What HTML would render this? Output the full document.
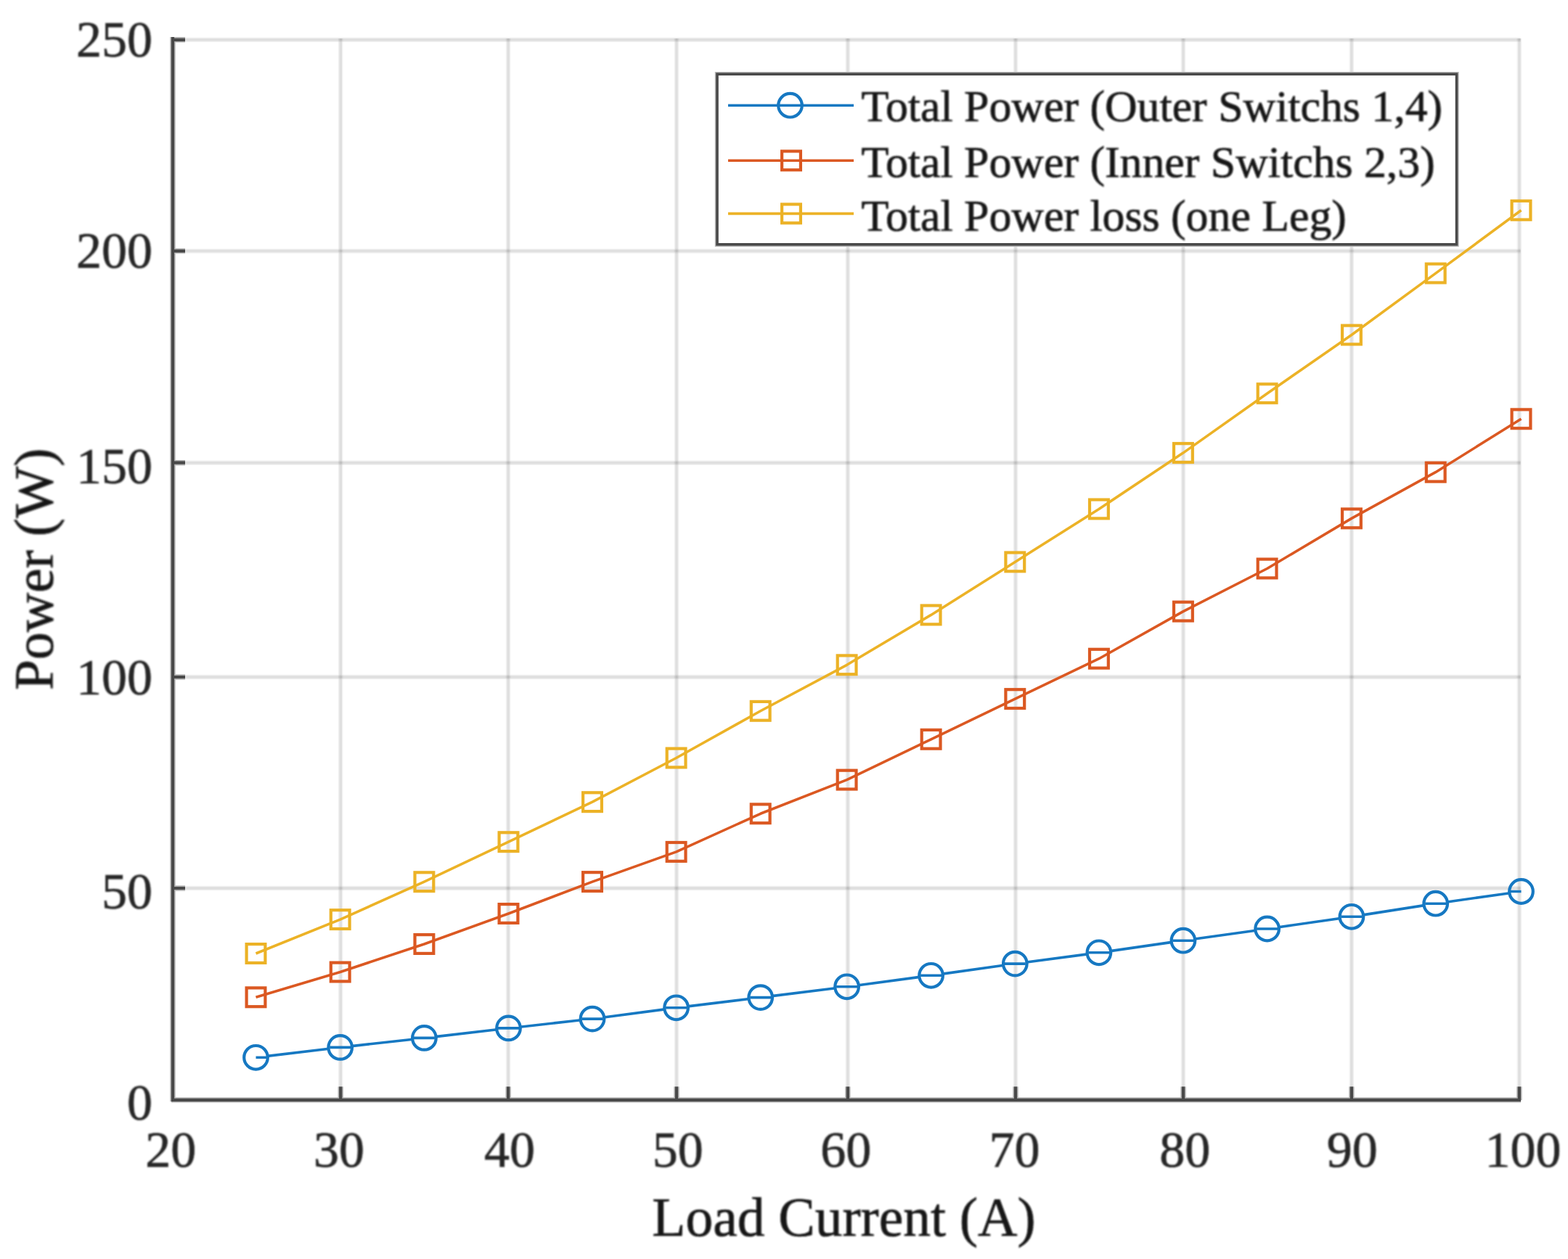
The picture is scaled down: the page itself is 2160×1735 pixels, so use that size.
<!DOCTYPE html>
<html><head><meta charset="utf-8"><title>Power vs Load Current</title>
<style>html,body{margin:0;padding:0;background:#fff;}body{width:2160px;height:1735px;overflow:hidden;}svg{display:block;}text{font-family:"Liberation Serif", "Times New Roman", serif;stroke-width:0.7px;}.tk{fill:#262626;stroke:#262626;}.lb{fill:#141414;stroke:#141414;}</style></head><body>
<svg width="2160" height="1735" viewBox="0 0 2160 1735">
<defs><filter id="tb" x="-5%" y="-20%" width="110%" height="140%"><feGaussianBlur stdDeviation="1.05"/></filter><filter id="lb" x="-2%" y="-2%" width="104%" height="104%"><feGaussianBlur stdDeviation="0.70"/></filter></defs>
<rect x="0" y="0" width="2160" height="1735" fill="#fff"/>
<g filter="url(#lb)">
<g opacity="0.152"><path d="M469.2 53.1V1515.9M700.1 53.1V1515.9M932.0 53.1V1515.9M1167.9 53.1V1515.9M1399.0 53.1V1515.9M1630.0 53.1V1515.9M1861.9 53.1V1515.9M2092.9 53.1V1515.9" stroke="#a3a3a3" stroke-width="6.5" fill="none"/><path d="M469.2 53.1V1515.9M700.1 53.1V1515.9M932.0 53.1V1515.9M1167.9 53.1V1515.9M1399.0 53.1V1515.9M1630.0 53.1V1515.9M1861.9 53.1V1515.9M2092.9 53.1V1515.9" stroke="#262626" stroke-width="3.4" fill="none"/></g>
<g opacity="0.152"><path d="M238.0 1224.0H2094.6M238.0 933.0H2094.6M238.0 637.7H2094.6M238.0 345.9H2094.6M238.0 54.8H2094.6" stroke="#a3a3a3" stroke-width="6.5" fill="none"/><path d="M238.0 1224.0H2094.6M238.0 933.0H2094.6M238.0 637.7H2094.6M238.0 345.9H2094.6M238.0 54.8H2094.6" stroke="#262626" stroke-width="3.4" fill="none"/></g>
<path d="M238.0 51.0V1517.9M236.0 1515.9H2095.1M238.0 1224.0H255.0M238.0 933.0H255.0M238.0 637.7H255.0M238.0 345.9H255.0M238.0 54.8H255.0M469.2 1515.9V1497.4M700.1 1515.9V1497.4M932.0 1515.9V1497.4M1167.9 1515.9V1497.4M1399.0 1515.9V1497.4M1630.0 1515.9V1497.4M1861.9 1515.9V1497.4M2092.9 1515.9V1497.4" stroke="#b4b4b4" stroke-width="7.4" fill="none" stroke-linecap="butt"/>
<path d="M238.0 51.0V1517.9M236.0 1515.9H2095.1M238.0 1224.0H255.0M238.0 933.0H255.0M238.0 637.7H255.0M238.0 345.9H255.0M238.0 54.8H255.0M469.2 1515.9V1497.4M700.1 1515.9V1497.4M932.0 1515.9V1497.4M1167.9 1515.9V1497.4M1399.0 1515.9V1497.4M1630.0 1515.9V1497.4M1861.9 1515.9V1497.4M2092.9 1515.9V1497.4" stroke="#4a4a4a" stroke-width="4.2" fill="none" stroke-linecap="butt"/>
<path d="M368.2 1455.4L453.0 1445.3M484.4 1441.6L568.7 1432.2M600.1 1428.6L684.8 1418.7M716.2 1415.2L800.3 1405.8M831.7 1402.0L915.9 1390.9M947.3 1386.9L1032.0 1376.5M1063.4 1372.6L1150.9 1361.8M1182.3 1357.7L1266.9 1346.4M1298.2 1342.1L1382.7 1330.3M1414.0 1326.0L1498.2 1314.9M1529.5 1310.6L1614.3 1298.4M1645.5 1294.0L1730.0 1282.2M1761.2 1277.8L1846.3 1265.5M1877.5 1260.9L1962.1 1247.6M1993.3 1243.0L2079.9 1230.7M352.5 1457.3H367.0M454.2 1443.4H483.2M569.9 1430.4H598.9M686.0 1416.9H715.0M801.5 1404.1H830.5M917.1 1388.8H946.1M1033.2 1374.6H1062.2M1152.1 1359.8H1181.1M1268.1 1344.3H1297.1M1383.8 1328.1H1412.8M1499.4 1312.8H1528.4M1615.4 1296.2H1644.4M1731.1 1280.0H1760.1M1847.4 1263.3H1876.4M1963.2 1245.2H1992.2M2081.0 1228.5H2095.5" fill="none" stroke="#1478c2" stroke-width="3.6"/>
<g fill="none" stroke="#1478c2" stroke-width="4.2"><circle cx="352.5" cy="1457.3" r="16.3"/><circle cx="468.7" cy="1443.4" r="16.3"/><circle cx="584.4" cy="1430.4" r="16.3"/><circle cx="700.5" cy="1416.9" r="16.3"/><circle cx="816.0" cy="1404.1" r="16.3"/><circle cx="931.6" cy="1388.8" r="16.3"/><circle cx="1047.7" cy="1374.6" r="16.3"/><circle cx="1166.6" cy="1359.8" r="16.3"/><circle cx="1282.6" cy="1344.3" r="16.3"/><circle cx="1398.3" cy="1328.1" r="16.3"/><circle cx="1513.9" cy="1312.8" r="16.3"/><circle cx="1629.9" cy="1296.2" r="16.3"/><circle cx="1745.6" cy="1280.0" r="16.3"/><circle cx="1861.9" cy="1263.3" r="16.3"/><circle cx="1977.7" cy="1245.2" r="16.3"/><circle cx="2095.5" cy="1228.5" r="16.3"/></g>
<polyline points="352.5,1374.3 468.7,1339.5 584.4,1301.0 700.5,1259.0 816.0,1215.1 931.6,1173.9 1047.7,1121.3 1166.6,1074.6 1282.6,1018.8 1398.3,963.1 1513.9,907.7 1629.9,842.6 1745.6,783.5 1861.9,714.4 1977.7,650.7 2095.5,577.3" fill="none" stroke="#db5820" stroke-width="3.6" stroke-linejoin="round"/>
<g fill="none" stroke="#db5820" stroke-width="4.2"><rect x="339.6" y="1361.4" width="25.8" height="25.8"/><rect x="455.8" y="1326.6" width="25.8" height="25.8"/><rect x="571.5" y="1288.1" width="25.8" height="25.8"/><rect x="687.6" y="1246.1" width="25.8" height="25.8"/><rect x="803.1" y="1202.2" width="25.8" height="25.8"/><rect x="918.7" y="1161.0" width="25.8" height="25.8"/><rect x="1034.8" y="1108.4" width="25.8" height="25.8"/><rect x="1153.7" y="1061.7" width="25.8" height="25.8"/><rect x="1269.7" y="1005.9" width="25.8" height="25.8"/><rect x="1385.4" y="950.2" width="25.8" height="25.8"/><rect x="1501.0" y="894.8" width="25.8" height="25.8"/><rect x="1617.0" y="829.7" width="25.8" height="25.8"/><rect x="1732.7" y="770.6" width="25.8" height="25.8"/><rect x="1849.0" y="701.5" width="25.8" height="25.8"/><rect x="1964.8" y="637.8" width="25.8" height="25.8"/><rect x="2082.6" y="564.4" width="25.8" height="25.8"/></g>
<polyline points="352.5,1314.0 468.7,1267.1 584.4,1215.2 700.5,1160.2 816.0,1105.2 931.6,1044.5 1047.7,979.8 1166.6,916.3 1282.6,847.4 1398.3,774.4 1513.9,701.5 1629.9,624.1 1745.6,542.2 1861.9,461.5 1977.7,376.6 2095.5,289.8" fill="none" stroke="#ecb226" stroke-width="3.6" stroke-linejoin="round"/>
<g fill="none" stroke="#ecb226" stroke-width="4.2"><rect x="339.6" y="1301.1" width="25.8" height="25.8"/><rect x="455.8" y="1254.2" width="25.8" height="25.8"/><rect x="571.5" y="1202.3" width="25.8" height="25.8"/><rect x="687.6" y="1147.3" width="25.8" height="25.8"/><rect x="803.1" y="1092.3" width="25.8" height="25.8"/><rect x="918.7" y="1031.6" width="25.8" height="25.8"/><rect x="1034.8" y="966.9" width="25.8" height="25.8"/><rect x="1153.7" y="903.4" width="25.8" height="25.8"/><rect x="1269.7" y="834.5" width="25.8" height="25.8"/><rect x="1385.4" y="761.5" width="25.8" height="25.8"/><rect x="1501.0" y="688.6" width="25.8" height="25.8"/><rect x="1617.0" y="611.2" width="25.8" height="25.8"/><rect x="1732.7" y="529.3" width="25.8" height="25.8"/><rect x="1849.0" y="448.6" width="25.8" height="25.8"/><rect x="1964.8" y="363.7" width="25.8" height="25.8"/><rect x="2082.6" y="276.9" width="25.8" height="25.8"/></g>
<rect x="988.0" y="102.2" width="1018.5" height="234.6" fill="#fff" stroke="#b4b4b4" stroke-width="6.4"/>
<rect x="988.0" y="102.2" width="1018.5" height="234.6" fill="#fff" stroke="#4a4a4a" stroke-width="3.6"/>
<path d="M1003 145.2H1176" stroke="#1478c2" stroke-width="3.6"/>
<circle cx="1088.5" cy="145.2" r="16.3" fill="none" stroke="#1478c2" stroke-width="4.2"/>
<path d="M1003 221.3H1176" stroke="#db5820" stroke-width="3.6"/>
<rect x="1077.1" y="208.4" width="25.8" height="25.8" fill="none" stroke="#db5820" stroke-width="4.2"/>
<path d="M1003 294.4H1176" stroke="#ecb226" stroke-width="3.6"/>
<rect x="1077.1" y="281.5" width="25.8" height="25.8" fill="none" stroke="#ecb226" stroke-width="4.2"/>
</g>
<g filter="url(#tb)">
<text class="tk" x="210.0" y="78.3" font-size="70" text-anchor="end">250</text>
<text class="tk" x="210.0" y="368.8" font-size="70" text-anchor="end">200</text>
<text class="tk" x="210.0" y="665.7" font-size="70" text-anchor="end">150</text>
<text class="tk" x="210.0" y="956.7" font-size="70" text-anchor="end">100</text>
<text class="tk" x="210.0" y="1252.0" font-size="70" text-anchor="end">50</text>
<text class="tk" x="210.0" y="1542.9" font-size="70" text-anchor="end">0</text>
<text class="tk" x="235.2" y="1607.9" font-size="70" text-anchor="middle">20</text>
<text class="tk" x="467.1" y="1607.9" font-size="70" text-anchor="middle">30</text>
<text class="tk" x="701.9" y="1607.9" font-size="70" text-anchor="middle">40</text>
<text class="tk" x="933.7" y="1607.9" font-size="70" text-anchor="middle">50</text>
<text class="tk" x="1165.2" y="1607.9" font-size="70" text-anchor="middle">60</text>
<text class="tk" x="1397.4" y="1607.9" font-size="70" text-anchor="middle">70</text>
<text class="tk" x="1632.2" y="1607.9" font-size="70" text-anchor="middle">80</text>
<text class="tk" x="1862.8" y="1607.9" font-size="70" text-anchor="middle">90</text>
<text class="tk" x="2098.0" y="1607.9" font-size="70" text-anchor="middle">100</text>
<text class="lb" x="1162.5" y="1702.6" font-size="75.5" text-anchor="middle">Load Current (A)</text>
<text class="lb" transform="translate(72.4 784.3) rotate(-90)" x="0" y="0" font-size="75.5" text-anchor="middle">Power (W)</text>
<text class="lb" x="1186.5" y="166.9" font-size="61.8">Total Power (Outer Switchs 1,4)</text>
<text class="lb" x="1186.5" y="243.8" font-size="61.8">Total Power (Inner Switchs 2,3)</text>
<text class="lb" x="1186.5" y="317.9" font-size="61.8">Total Power loss (one Leg)</text>
</g>
</svg></body></html>
